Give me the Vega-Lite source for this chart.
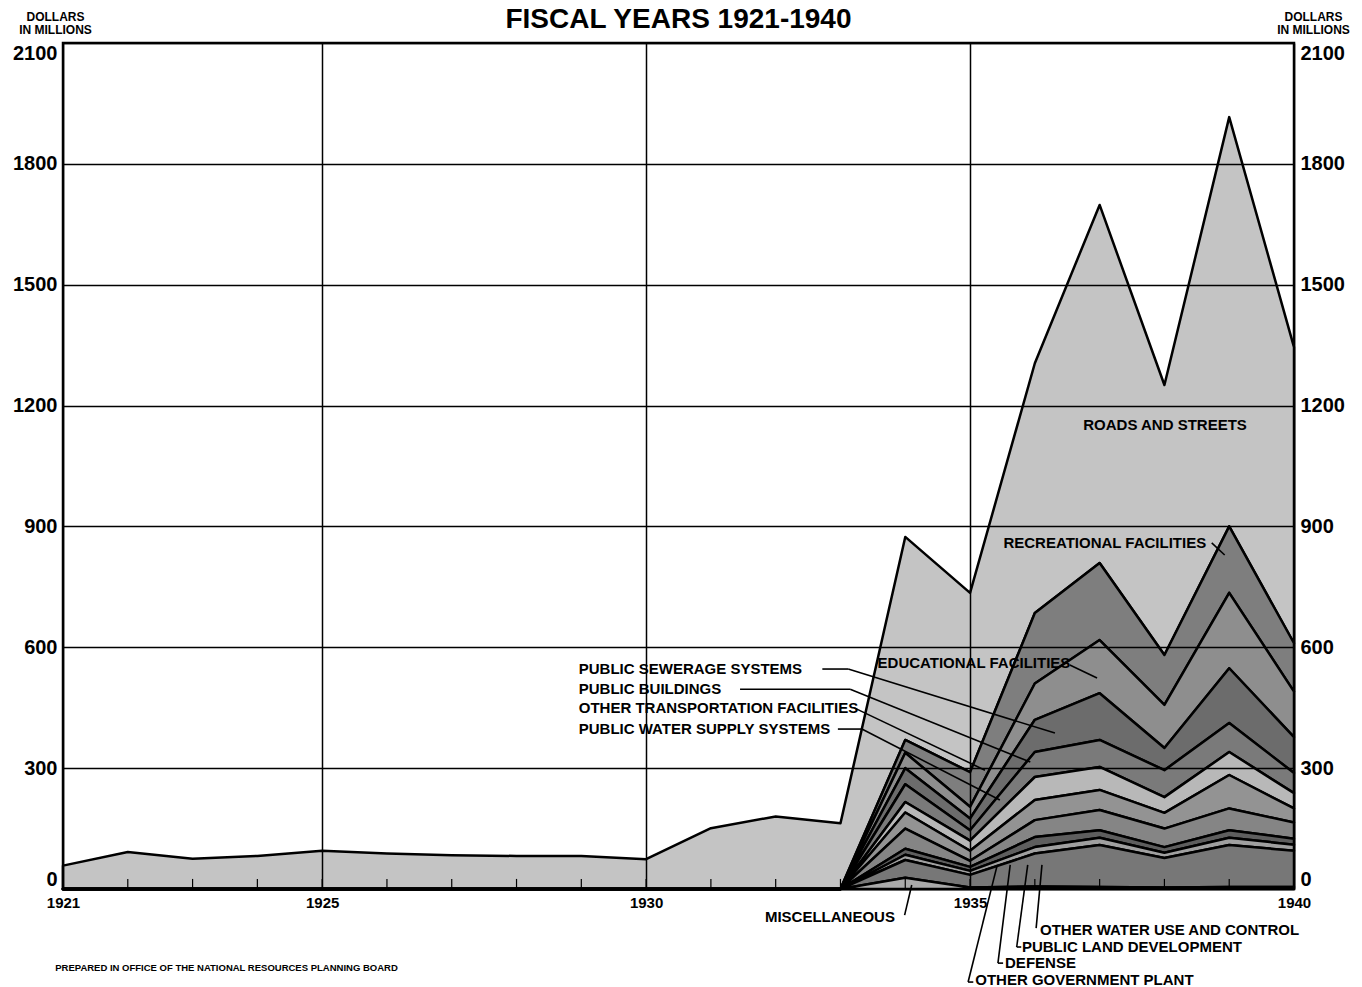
{
  "$schema": "https://vega.github.io/schema/vega-lite/v6.json",
  "width": 1231,
  "height": 846,
  "autosize": {"type": "none"},
  "padding": {"left": 63, "top": 43, "right": 68, "bottom": 98},
  "background": "white",
  "config": {
    "view": {"stroke": "black", "strokeWidth": 2.5},
    "font": "Liberation Sans"
  },
  "title": {"text": "FISCAL YEARS 1921-1940", "font": "Liberation Sans", "fontSize": 28, "fontWeight": "bold", "color": "black", "anchor": "middle", "frame": "group", "offset": -24},
  "datasets": {
    "cats": [
      {"cat": "MISCELLANEOUS", "k": 1},
      {"cat": "OTHER GOVERNMENT PLANT", "k": 2},
      {"cat": "DEFENSE", "k": 3},
      {"cat": "PUBLIC LAND DEVELOPMENT", "k": 4},
      {"cat": "OTHER WATER USE AND CONTROL", "k": 5},
      {"cat": "PUBLIC WATER SUPPLY SYSTEMS", "k": 6},
      {"cat": "OTHER TRANSPORTATION FACILITIES", "k": 7},
      {"cat": "PUBLIC BUILDINGS", "k": 8},
      {"cat": "PUBLIC SEWERAGE SYSTEMS", "k": 9},
      {"cat": "EDUCATIONAL FACILITIES", "k": 10},
      {"cat": "RECREATIONAL FACILITIES", "k": 11},
      {"cat": "ROADS AND STREETS", "k": 12}
    ],
    "series": [
      {"year": 1921, "cat": "ROADS AND STREETS", "v": 58},
      {"year": 1922, "cat": "ROADS AND STREETS", "v": 92},
      {"year": 1923, "cat": "ROADS AND STREETS", "v": 75},
      {"year": 1924, "cat": "ROADS AND STREETS", "v": 82},
      {"year": 1925, "cat": "ROADS AND STREETS", "v": 95},
      {"year": 1926, "cat": "ROADS AND STREETS", "v": 88},
      {"year": 1927, "cat": "ROADS AND STREETS", "v": 84},
      {"year": 1928, "cat": "ROADS AND STREETS", "v": 82},
      {"year": 1929, "cat": "ROADS AND STREETS", "v": 82},
      {"year": 1930, "cat": "ROADS AND STREETS", "v": 74},
      {"year": 1931, "cat": "ROADS AND STREETS", "v": 151},
      {"year": 1932, "cat": "ROADS AND STREETS", "v": 180},
      {"year": 1933, "cat": "ROADS AND STREETS", "v": 163},
      {"year": 1934, "cat": "ROADS AND STREETS", "v": 504},
      {"year": 1935, "cat": "ROADS AND STREETS", "v": 445},
      {"year": 1936, "cat": "ROADS AND STREETS", "v": 620},
      {"year": 1937, "cat": "ROADS AND STREETS", "v": 889},
      {"year": 1938, "cat": "ROADS AND STREETS", "v": 670},
      {"year": 1939, "cat": "ROADS AND STREETS", "v": 1016},
      {"year": 1940, "cat": "ROADS AND STREETS", "v": 735},
      {"year": 1933, "cat": "RECREATIONAL FACILITIES", "v": 0},
      {"year": 1934, "cat": "RECREATIONAL FACILITIES", "v": 32},
      {"year": 1935, "cat": "RECREATIONAL FACILITIES", "v": 86},
      {"year": 1936, "cat": "RECREATIONAL FACILITIES", "v": 175},
      {"year": 1937, "cat": "RECREATIONAL FACILITIES", "v": 191},
      {"year": 1938, "cat": "RECREATIONAL FACILITIES", "v": 124},
      {"year": 1939, "cat": "RECREATIONAL FACILITIES", "v": 165},
      {"year": 1940, "cat": "RECREATIONAL FACILITIES", "v": 120},
      {"year": 1933, "cat": "EDUCATIONAL FACILITIES", "v": 0},
      {"year": 1934, "cat": "EDUCATIONAL FACILITIES", "v": 38},
      {"year": 1935, "cat": "EDUCATIONAL FACILITIES", "v": 29},
      {"year": 1936, "cat": "EDUCATIONAL FACILITIES", "v": 90},
      {"year": 1937, "cat": "EDUCATIONAL FACILITIES", "v": 132},
      {"year": 1938, "cat": "EDUCATIONAL FACILITIES", "v": 107},
      {"year": 1939, "cat": "EDUCATIONAL FACILITIES", "v": 187},
      {"year": 1940, "cat": "EDUCATIONAL FACILITIES", "v": 113},
      {"year": 1933, "cat": "PUBLIC SEWERAGE SYSTEMS", "v": 0},
      {"year": 1934, "cat": "PUBLIC SEWERAGE SYSTEMS", "v": 40},
      {"year": 1935, "cat": "PUBLIC SEWERAGE SYSTEMS", "v": 29},
      {"year": 1936, "cat": "PUBLIC SEWERAGE SYSTEMS", "v": 80},
      {"year": 1937, "cat": "PUBLIC SEWERAGE SYSTEMS", "v": 116},
      {"year": 1938, "cat": "PUBLIC SEWERAGE SYSTEMS", "v": 55},
      {"year": 1939, "cat": "PUBLIC SEWERAGE SYSTEMS", "v": 136},
      {"year": 1940, "cat": "PUBLIC SEWERAGE SYSTEMS", "v": 89},
      {"year": 1933, "cat": "PUBLIC BUILDINGS", "v": 0},
      {"year": 1934, "cat": "PUBLIC BUILDINGS", "v": 44},
      {"year": 1935, "cat": "PUBLIC BUILDINGS", "v": 26},
      {"year": 1936, "cat": "PUBLIC BUILDINGS", "v": 62},
      {"year": 1937, "cat": "PUBLIC BUILDINGS", "v": 67},
      {"year": 1938, "cat": "PUBLIC BUILDINGS", "v": 67},
      {"year": 1939, "cat": "PUBLIC BUILDINGS", "v": 72},
      {"year": 1940, "cat": "PUBLIC BUILDINGS", "v": 50},
      {"year": 1933, "cat": "OTHER TRANSPORTATION FACILITIES", "v": 0},
      {"year": 1934, "cat": "OTHER TRANSPORTATION FACILITIES", "v": 26},
      {"year": 1935, "cat": "OTHER TRANSPORTATION FACILITIES", "v": 25},
      {"year": 1936, "cat": "OTHER TRANSPORTATION FACILITIES", "v": 57},
      {"year": 1937, "cat": "OTHER TRANSPORTATION FACILITIES", "v": 57},
      {"year": 1938, "cat": "OTHER TRANSPORTATION FACILITIES", "v": 39},
      {"year": 1939, "cat": "OTHER TRANSPORTATION FACILITIES", "v": 57},
      {"year": 1940, "cat": "OTHER TRANSPORTATION FACILITIES", "v": 38},
      {"year": 1933, "cat": "PUBLIC WATER SUPPLY SYSTEMS", "v": 0},
      {"year": 1934, "cat": "PUBLIC WATER SUPPLY SYSTEMS", "v": 40},
      {"year": 1935, "cat": "PUBLIC WATER SUPPLY SYSTEMS", "v": 25},
      {"year": 1936, "cat": "PUBLIC WATER SUPPLY SYSTEMS", "v": 50},
      {"year": 1937, "cat": "PUBLIC WATER SUPPLY SYSTEMS", "v": 50},
      {"year": 1938, "cat": "PUBLIC WATER SUPPLY SYSTEMS", "v": 39},
      {"year": 1939, "cat": "PUBLIC WATER SUPPLY SYSTEMS", "v": 83},
      {"year": 1940, "cat": "PUBLIC WATER SUPPLY SYSTEMS", "v": 35},
      {"year": 1933, "cat": "OTHER WATER USE AND CONTROL", "v": 0},
      {"year": 1934, "cat": "OTHER WATER USE AND CONTROL", "v": 50},
      {"year": 1935, "cat": "OTHER WATER USE AND CONTROL", "v": 15},
      {"year": 1936, "cat": "OTHER WATER USE AND CONTROL", "v": 42},
      {"year": 1937, "cat": "OTHER WATER USE AND CONTROL", "v": 50},
      {"year": 1938, "cat": "OTHER WATER USE AND CONTROL", "v": 46},
      {"year": 1939, "cat": "OTHER WATER USE AND CONTROL", "v": 54},
      {"year": 1940, "cat": "OTHER WATER USE AND CONTROL", "v": 40},
      {"year": 1933, "cat": "PUBLIC LAND DEVELOPMENT", "v": 0},
      {"year": 1934, "cat": "PUBLIC LAND DEVELOPMENT", "v": 15},
      {"year": 1935, "cat": "PUBLIC LAND DEVELOPMENT", "v": 10},
      {"year": 1936, "cat": "PUBLIC LAND DEVELOPMENT", "v": 25},
      {"year": 1937, "cat": "PUBLIC LAND DEVELOPMENT", "v": 19},
      {"year": 1938, "cat": "PUBLIC LAND DEVELOPMENT", "v": 14},
      {"year": 1939, "cat": "PUBLIC LAND DEVELOPMENT", "v": 19},
      {"year": 1940, "cat": "PUBLIC LAND DEVELOPMENT", "v": 15},
      {"year": 1933, "cat": "DEFENSE", "v": 0},
      {"year": 1934, "cat": "DEFENSE", "v": 13},
      {"year": 1935, "cat": "DEFENSE", "v": 10},
      {"year": 1936, "cat": "DEFENSE", "v": 16},
      {"year": 1937, "cat": "DEFENSE", "v": 18},
      {"year": 1938, "cat": "DEFENSE", "v": 13},
      {"year": 1939, "cat": "DEFENSE", "v": 18},
      {"year": 1940, "cat": "DEFENSE", "v": 15},
      {"year": 1933, "cat": "OTHER GOVERNMENT PLANT", "v": 0},
      {"year": 1934, "cat": "OTHER GOVERNMENT PLANT", "v": 44},
      {"year": 1935, "cat": "OTHER GOVERNMENT PLANT", "v": 31},
      {"year": 1936, "cat": "OTHER GOVERNMENT PLANT", "v": 82},
      {"year": 1937, "cat": "OTHER GOVERNMENT PLANT", "v": 104},
      {"year": 1938, "cat": "OTHER GOVERNMENT PLANT", "v": 73},
      {"year": 1939, "cat": "OTHER GOVERNMENT PLANT", "v": 104},
      {"year": 1940, "cat": "OTHER GOVERNMENT PLANT", "v": 90},
      {"year": 1933, "cat": "MISCELLANEOUS", "v": 0},
      {"year": 1934, "cat": "MISCELLANEOUS", "v": 28},
      {"year": 1935, "cat": "MISCELLANEOUS", "v": 4},
      {"year": 1936, "cat": "MISCELLANEOUS", "v": 6},
      {"year": 1937, "cat": "MISCELLANEOUS", "v": 5},
      {"year": 1938, "cat": "MISCELLANEOUS", "v": 4},
      {"year": 1939, "cat": "MISCELLANEOUS", "v": 5},
      {"year": 1940, "cat": "MISCELLANEOUS", "v": 5}
    ],
    "years": [
      {"year": 1921}, {"year": 1922}, {"year": 1923}, {"year": 1924}, {"year": 1925},
      {"year": 1926}, {"year": 1927}, {"year": 1928}, {"year": 1929}, {"year": 1930},
      {"year": 1931}, {"year": 1932}, {"year": 1933}, {"year": 1934}, {"year": 1935},
      {"year": 1936}, {"year": 1937}, {"year": 1938}, {"year": 1939}, {"year": 1940}
    ],
    "leaders": [
      {"xa": 1932.72, "ya": 546, "xb": 1933.12, "yb": 546},
      {"xa": 1933.12, "ya": 546, "xb": 1936.31, "yb": 387},
      {"xa": 1931.45, "ya": 496, "xb": 1933.15, "yb": 496},
      {"xa": 1933.15, "ya": 496, "xb": 1935.93, "yb": 315},
      {"xa": 1933.22, "ya": 449, "xb": 1935.23, "yb": 295},
      {"xa": 1932.96, "ya": 397, "xb": 1933.33, "yb": 397},
      {"xa": 1933.33, "ya": 397, "xb": 1935.46, "yb": 221},
      {"xa": 1938.73, "ya": 859, "xb": 1938.93, "yb": 829},
      {"xa": 1936.54, "ya": 556, "xb": 1936.96, "yb": 524},
      {"xa": 1933.99, "ya": -65, "xb": 1934.10, "yb": 10},
      {"xa": 1934.97, "ya": -231, "xb": 1935.42, "yb": 60},
      {"xa": 1934.97, "ya": -231, "xb": 1935.05, "yb": -231},
      {"xa": 1935.43, "ya": -184, "xb": 1935.62, "yb": 60},
      {"xa": 1935.43, "ya": -184, "xb": 1935.51, "yb": -184},
      {"xa": 1935.72, "ya": -144, "xb": 1935.89, "yb": 60},
      {"xa": 1935.72, "ya": -144, "xb": 1935.79, "yb": -144},
      {"xa": 1936.02, "ya": -97, "xb": 1936.11, "yb": 60}
    ],
    "labC": [
      {"t": "ROADS AND STREETS", "x": 1938.01, "y": 1152},
      {"t": "RECREATIONAL FACILITIES", "x": 1937.08, "y": 859},
      {"t": "EDUCATIONAL FACILITIES", "x": 1935.06, "y": 561}
    ],
    "labL": [
      {"t": "PUBLIC SEWERAGE SYSTEMS", "x": 1928.96, "y": 546},
      {"t": "PUBLIC BUILDINGS", "x": 1928.96, "y": 496},
      {"t": "OTHER TRANSPORTATION FACILITIES", "x": 1928.96, "y": 449},
      {"t": "PUBLIC WATER SUPPLY SYSTEMS", "x": 1928.96, "y": 397},
      {"t": "OTHER WATER USE AND CONTROL", "x": 1936.08, "y": -102},
      {"t": "PUBLIC LAND DEVELOPMENT", "x": 1935.80, "y": -144},
      {"t": "DEFENSE", "x": 1935.54, "y": -184},
      {"t": "OTHER GOVERNMENT PLANT", "x": 1935.08, "y": -226}
    ],
    "labR": [
      {"t": "MISCELLANEOUS", "x": 1933.84, "y": -70}
    ],
    "note": [
      {"t": "PREPARED IN OFFICE OF THE NATIONAL RESOURCES PLANNING BOARD", "x": 1920.88, "y": -196}
    ]
  },
  "layer": [
    {
      "data": {"name": "series"},
      "transform": [{"lookup": "cat", "from": {"data": {"name": "cats"}, "key": "cat", "fields": ["k"]}}],
      "mark": {"type": "area", "interpolate": "linear", "stroke": "black", "strokeWidth": 2.5, "strokeJoin": "round"},
      "encoding": {
        "x": {
          "field": "year", "type": "quantitative",
          "scale": {"domain": [1921, 1940], "nice": false, "zero": false},
          "axis": {
            "values": [1921, 1925, 1930, 1935, 1940], "format": "d", "grid": true, "gridColor": "black", "gridWidth": 1.5, "gridOpacity": 1,
            "domain": false, "ticks": false, "labelFlush": false, "labelFont": "Liberation Sans", "labelFontSize": 15, "labelFontWeight": "bold",
            "labelColor": "black", "labelPadding": 6, "zindex": 1, "title": null
          }
        },
        "y": {
          "field": "v", "type": "quantitative", "stack": "zero",
          "scale": {"domain": [0, 2100], "nice": false},
          "axis": {
            "orient": "left", "values": [0, 300, 600, 900, 1200, 1500, 1800, 2100], "format": "d", "grid": true, "gridColor": "black", "gridWidth": 1.5, "gridOpacity": 1,
            "domain": false, "ticks": false, "labelFont": "Liberation Sans", "labelFontSize": 20, "labelFontWeight": "bold", "labelColor": "black", "labelPadding": 6,
            "labelFlush": true, "labelFlushOffset": 0,
            "title": ["DOLLARS", "IN MILLIONS"], "titleAngle": 0, "titleX": -8, "titleY": -23, "titleAlign": "center", "titleBaseline": "alphabetic",
            "titleFont": "Liberation Sans", "titleFontSize": 12, "titleFontWeight": "bold", "titleLineHeight": 13, "titleColor": "black", "zindex": 1
          }
        },
        "order": {"field": "k", "type": "quantitative", "sort": "ascending"},
        "color": {
          "field": "cat", "type": "nominal",
          "scale": {
            "domain": ["ROADS AND STREETS", "RECREATIONAL FACILITIES", "EDUCATIONAL FACILITIES", "PUBLIC SEWERAGE SYSTEMS", "PUBLIC BUILDINGS", "OTHER TRANSPORTATION FACILITIES", "PUBLIC WATER SUPPLY SYSTEMS", "OTHER WATER USE AND CONTROL", "PUBLIC LAND DEVELOPMENT", "DEFENSE", "OTHER GOVERNMENT PLANT", "MISCELLANEOUS"],
            "range": ["#c4c4c4", "#7e7e7e", "#8e8e8e", "#6c6c6c", "#7a7a7a", "#b8b8b8", "#939393", "#858585", "#5e5e5e", "#a0a0a0", "#777777", "#aaaaaa"]
          },
          "legend": null
        }
      }
    },
    {
      "data": {"name": "years"},
      "mark": {"type": "rule", "stroke": "black", "strokeWidth": 1.2},
      "encoding": {
        "x": {"field": "year", "type": "quantitative", "scale": {"domain": [1921, 1940], "nice": false, "zero": false},
          "axis": {"values": [1921, 1925, 1930, 1935, 1940], "title": null}},
        "y": {"datum": 0, "type": "quantitative", "scale": {"domain": [0, 2100], "nice": false}, "axis": null},
        "y2": {"datum": 25}
      }
    },
    {
      "data": {"name": "leaders"},
      "mark": {"type": "rule", "stroke": "black", "strokeWidth": 1.6},
      "encoding": {
        "x": {"field": "xa", "type": "quantitative", "scale": {"domain": [1921, 1940], "nice": false, "zero": false},
          "axis": {"values": [1921, 1925, 1930, 1935, 1940], "title": null}},
        "y": {"field": "ya", "type": "quantitative", "scale": {"domain": [0, 2100], "nice": false}, "axis": null},
        "x2": {"field": "xb"},
        "y2": {"field": "yb"}
      }
    },
    {
      "data": {"name": "labC"},
      "mark": {"type": "text", "align": "center", "baseline": "middle", "font": "Liberation Sans", "fontSize": 15, "fontWeight": "bold", "color": "black"},
      "encoding": {
        "x": {"field": "x", "type": "quantitative", "scale": {"domain": [1921, 1940], "nice": false, "zero": false},
          "axis": {"values": [1921, 1925, 1930, 1935, 1940], "title": null}},
        "y": {
          "field": "y", "type": "quantitative", "scale": {"domain": [0, 2100], "nice": false},
          "axis": {
            "orient": "right", "values": [0, 300, 600, 900, 1200, 1500, 1800, 2100], "format": "d", "grid": false,
            "domain": false, "ticks": false, "labelFont": "Liberation Sans", "labelFontSize": 20, "labelFontWeight": "bold", "labelColor": "black", "labelPadding": 6,
            "labelFlush": true, "labelFlushOffset": 0,
            "title": ["DOLLARS", "IN MILLIONS"], "titleAngle": 0, "titleX": 19, "titleY": -23, "titleAlign": "center", "titleBaseline": "alphabetic",
            "titleFont": "Liberation Sans", "titleFontSize": 12, "titleFontWeight": "bold", "titleLineHeight": 13, "titleColor": "black"
          }
        },
        "text": {"field": "t"}
      }
    },
    {
      "data": {"name": "labL"},
      "mark": {"type": "text", "align": "left", "baseline": "middle", "font": "Liberation Sans", "fontSize": 15, "fontWeight": "bold", "color": "black"},
      "encoding": {
        "x": {"field": "x", "type": "quantitative", "scale": {"domain": [1921, 1940], "nice": false, "zero": false},
          "axis": {"values": [1921, 1925, 1930, 1935, 1940], "title": null}},
        "y": {"field": "y", "type": "quantitative", "scale": {"domain": [0, 2100], "nice": false}, "axis": null},
        "text": {"field": "t"}
      }
    },
    {
      "data": {"name": "labR"},
      "mark": {"type": "text", "align": "right", "baseline": "middle", "font": "Liberation Sans", "fontSize": 15, "fontWeight": "bold", "color": "black"},
      "encoding": {
        "x": {"field": "x", "type": "quantitative", "scale": {"domain": [1921, 1940], "nice": false, "zero": false},
          "axis": {"values": [1921, 1925, 1930, 1935, 1940], "title": null}},
        "y": {"field": "y", "type": "quantitative", "scale": {"domain": [0, 2100], "nice": false}, "axis": null},
        "text": {"field": "t"}
      }
    },
    {
      "data": {"name": "note"},
      "mark": {"type": "text", "align": "left", "baseline": "middle", "font": "Liberation Sans", "fontSize": 9.5, "fontWeight": "bold", "color": "black"},
      "encoding": {
        "x": {"field": "x", "type": "quantitative", "scale": {"domain": [1921, 1940], "nice": false, "zero": false},
          "axis": {"values": [1921, 1925, 1930, 1935, 1940], "title": null}},
        "y": {"field": "y", "type": "quantitative", "scale": {"domain": [0, 2100], "nice": false}, "axis": null},
        "text": {"field": "t"}
      }
    }
  ],
  "resolve": {"axis": {"y": "independent"}}
}
